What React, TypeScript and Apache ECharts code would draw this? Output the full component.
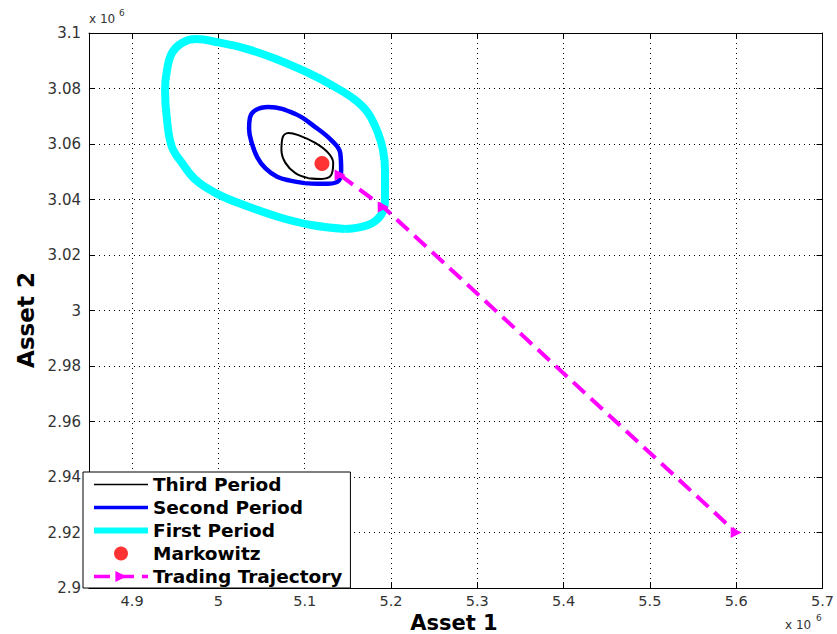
import React, { useEffect, useRef } from "react";
import * as echarts from "echarts";

// values in units of 10^6
const xTicks = [4.9, 5, 5.1, 5.2, 5.3, 5.4, 5.5, 5.6, 5.7];

const firstX = [5.1468, 5.1076, 5.0696, 5.0234, 4.9969, 4.9738, 4.9577, 4.9461, 4.9404, 4.9381, 4.9404, 4.9461, 4.9577, 4.9738, 5.0003, 5.0315, 5.0696, 5.1042, 5.1353, 5.1584, 5.1734, 5.1849, 5.1907, 5.193, 5.193, 5.1884, 5.1734];
const firstY = [3.0294, 3.0308, 3.0337, 3.0387, 3.0423, 3.047, 3.0532, 3.0589, 3.0686, 3.0795, 3.0867, 3.0928, 3.0964, 3.0978, 3.0966, 3.0944, 3.0903, 3.0856, 3.0805, 3.0759, 3.0712, 3.064, 3.0578, 3.0506, 3.0398, 3.0344, 3.0308];

const secondX = [5.1, 5.083, 5.068, 5.0546, 5.045, 5.0385, 5.0355, 5.0365, 5.043, 5.058, 5.0892, 5.1122, 5.1307, 5.1411, 5.1422, 5.1395, 5.1272, 5.115];
const secondY = [3.0459, 3.0468, 3.0482, 3.0512, 3.0552, 3.0605, 3.0655, 3.0695, 3.0722, 3.0733, 3.0708, 3.0661, 3.0614, 3.0568, 3.0506, 3.0468, 3.0457, 3.0457];

const thirdX = [5.1042, 5.0892, 5.0776, 5.073, 5.0742, 5.0811, 5.0926, 5.1122, 5.1272, 5.133, 5.1307, 5.1191];
const thirdY = [3.0477, 3.0495, 3.0532, 3.0578, 3.0622, 3.064, 3.0632, 3.0604, 3.0568, 3.0532, 3.0488, 3.0474];

const markowitzX = [5.12];
const markowitzY = [3.053];

const trajX = [5.141, 5.191, 5.6];
const trajY = [3.0488, 3.0373, 2.92];

const seriesNames = ["Third Period", "Second Period", "First Period", "Markowitz", "Trading Trajectory"];

const closed = (xs: number[], ys: number[]) => {
  const d = xs.map((x, i) => [x, ys[i]]);
  d.push([xs[0], ys[0]]);
  return d;
};
const open = (xs: number[], ys: number[]) => xs.map((x, i) => [x, ys[i]]);

const FONT = "DejaVu Sans";

export default function App() {
  const ref = useRef<HTMLDivElement>(null);
  useEffect(() => {
    if (!ref.current) return;
    const chart = echarts.init(ref.current, null, { renderer: "svg" });
    const axisCommon = {
      type: "value",
      axisLine: { show: true, onZero: false, lineStyle: { color: "#000", width: 1 } },
    };
    const grid = { show: true, lineStyle: { color: "#000", type: [1, 4], width: 1 } };
    chart.setOption({
      animation: false,
      backgroundColor: "#fff",
      grid: { left: 89, right: 11, top: 33, bottom: 46, show: false },
      xAxis: [
        {
          ...axisCommon,
          min: 4.85,
          max: 5.7,
          position: "bottom",
          axisTick: { show: true, inside: true, length: 6, lineStyle: { color: "#000" }, customValues: xTicks },
          axisLabel: { fontFamily: FONT, fontSize: 14.5, color: "#333", margin: 5, customValues: xTicks },
          splitLine: grid,
        },
        {
          ...axisCommon,
          min: 4.85,
          max: 5.7,
          position: "top",
          axisTick: { show: true, inside: true, length: 6, lineStyle: { color: "#000" }, customValues: xTicks },
          axisLabel: { show: false },
          splitLine: { show: false },
        },
      ],
      yAxis: [
        {
          ...axisCommon,
          min: 2.9,
          max: 3.1,
          interval: 0.02,
          position: "left",
          axisTick: { show: true, inside: true, length: 6, lineStyle: { color: "#000" } },
          axisLabel: { fontFamily: FONT, fontSize: 15, color: "#333", margin: 8 },
          splitLine: grid,
        },
        {
          ...axisCommon,
          min: 2.9,
          max: 3.1,
          interval: 0.02,
          position: "right",
          axisTick: { show: true, inside: true, length: 6, lineStyle: { color: "#000" } },
          axisLabel: { show: false },
          splitLine: { show: false },
        },
      ],
      legend: {
        orient: "vertical",
        left: 83,
        top: 472,
        itemWidth: 54,
        itemHeight: 14,
        itemGap: 4,
        padding: [3, 8, 2, 8],
        backgroundColor: "#fff",
        borderColor: "#000",
        borderWidth: 1,
        borderRadius: 0,
        textStyle: { fontFamily: FONT, fontWeight: "bold", fontSize: 18.5, color: "#000" },
        data: [
          { name: seriesNames[0], itemStyle: { opacity: 0 }, lineStyle: { width: 1.5 } },
          { name: seriesNames[1], itemStyle: { opacity: 0 }, lineStyle: { width: 3.5 } },
          { name: seriesNames[2], itemStyle: { opacity: 0 }, lineStyle: { width: 6 } },
          { name: seriesNames[3] },
          { name: seriesNames[4], lineStyle: { width: 3.5 } },
        ],
      },
      series: [
        {
          name: seriesNames[2],
          type: "line",
          data: closed(firstX, firstY),
          smooth: 0.4,
          symbol: "none",
          lineStyle: { color: "#00ffff", width: 8 },
          itemStyle: { color: "#00ffff" },
          z: 2,
        },
        {
          name: seriesNames[1],
          type: "line",
          data: closed(secondX, secondY),
          smooth: 0.4,
          symbol: "none",
          lineStyle: { color: "#0000ff", width: 4.5 },
          itemStyle: { color: "#0000ff" },
          z: 3,
        },
        {
          name: seriesNames[0],
          type: "line",
          data: closed(thirdX, thirdY),
          smooth: 0.4,
          symbol: "none",
          lineStyle: { color: "#000", width: 2 },
          itemStyle: { color: "#000" },
          z: 4,
        },
        {
          name: seriesNames[3],
          type: "scatter",
          data: open(markowitzX, markowitzY),
          symbol: "circle",
          symbolSize: 15,
          itemStyle: { color: "#ff0000" },
          z: 5,
        },
        {
          name: seriesNames[4],
          type: "line",
          data: open(trajX, trajY),
          symbol: "triangle",
          symbolRotate: -90,
          symbolSize: 11,
          showAllSymbol: true,
          lineStyle: { color: "#ff00ff", width: 4, type: [16, 8] },
          itemStyle: { color: "#ff00ff" },
          z: 6,
        },
      ],
      graphic: [
        {
          type: "text",
          left: 89,
          top: 13,
          style: { text: "x 10", fontFamily: FONT, fontSize: 12, fill: "#333" },
        },
        {
          type: "text",
          left: 119,
          top: 8,
          style: { text: "6", fontFamily: FONT, fontSize: 9, fill: "#333" },
        },
        {
          type: "text",
          left: 785,
          top: 619,
          style: { text: "x 10", fontFamily: FONT, fontSize: 12, fill: "#333" },
        },
        {
          type: "text",
          left: 816,
          top: 613,
          style: { text: "6", fontFamily: FONT, fontSize: 9, fill: "#333" },
        },
        {
          type: "text",
          x: 454,
          y: 633,
          style: {
            text: "Asset 1",
            fontFamily: FONT,
            fontWeight: "bold",
            fontSize: 21,
            fill: "#000",
            align: "center",
            verticalAlign: "bottom",
          },
        },
        {
          type: "text",
          x: 26,
          y: 320,
          rotation: Math.PI / 2,
          style: {
            text: "Asset 2",
            fontFamily: FONT,
            fontWeight: "bold",
            fontSize: 23,
            fill: "#000",
            align: "center",
            verticalAlign: "middle",
          },
        },
      ],
    });
    return () => chart.dispose();
  }, []);
  return (
    <div
      ref={ref}
      style={{ position: "fixed", left: 0, top: 0, width: 837, height: 634, background: "#fff" }}
    />
  );
}
